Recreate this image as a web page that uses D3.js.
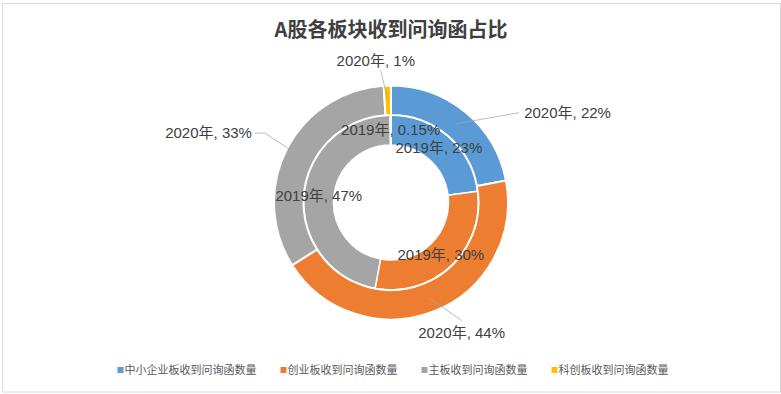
<!DOCTYPE html>
<html>
<head>
<meta charset="utf-8">
<script src="https://cdn.jsdelivr.net/npm/d3@7"></script>
<style>
  body { margin: 0; background: #fff; }
  text { font-family: "Liberation Sans Narrow", "Liberation Sans", "Noto Sans CJK SC", sans-serif; fill: #404040; }
  .title { font-family: "Noto Sans CJK SC", sans-serif; font-weight: bold; font-size: 20px; }
  .legend text { font-family: "Noto Sans CJK SC", sans-serif; font-size: 11px; fill: #595959; }
</style>
</head>
<body>
<svg id="chart" width="781" height="394"></svg>
<script>
var categories = ["中小企业板收到问询函数量", "创业板收到问询函数量", "主板收到问询函数量", "科创板收到问询函数量"];
var colors = ["#5B9BD5", "#ED7D31", "#A5A5A5", "#FFC000"];
var years = ["2019年", "2020年"];
var values2019 = [23, 30, 47, 0.15];
var values2020 = [22, 44, 33, 1];
var labels2019 = ["23%", "30%", "47%", "0.15%"];
var labels2020 = ["22%", "44%", "33%", "1%"];

// where the outer leader lines end, relative to the slice centroid
var outerLabelOffset = [[63, -11], [33, 23], [-35, -23], [-7, -30]];

var svg = d3.select("#chart");
var cx = 391, cy = 202.5;

svg.append("rect")
  .attr("x", 2.5).attr("y", 3.5)
  .attr("width", 778).attr("height", 388.5)
  .attr("fill", "#fff")
  .attr("stroke", "#d9d9d9");

svg.append("text")
  .attr("class", "title")
  .attr("x", cx).attr("y", 37)
  .attr("text-anchor", "middle")
  .text("A股各板块收到问询函占比");

var pie = d3.pie().sort(null).value(function(d) { return d; });
var innerArc = d3.arc().innerRadius(57.5).outerRadius(87.5);
var outerArc = d3.arc().innerRadius(87.5).outerRadius(117);

var g = svg.append("g").attr("transform", "translate(" + cx + "," + cy + ")");

var inner = pie(values2019);
var outer = pie(values2020);

g.selectAll("path.inner")
  .data(inner)
  .enter().append("path")
  .attr("class", "inner")
  .attr("d", innerArc)
  .attr("fill", function(d, i) { return colors[i]; })
  .attr("stroke", "#fff")
  .attr("stroke-width", 1.5);

g.selectAll("path.outer")
  .data(outer)
  .enter().append("path")
  .attr("class", "outer")
  .attr("d", outerArc)
  .attr("fill", function(d, i) { return colors[i]; })
  .attr("stroke", "#fff")
  .attr("stroke-width", 2);

// inner labels sit on the centroid
g.selectAll("text.inner")
  .data(inner)
  .enter().append("text")
  .attr("class", "inner")
  .attr("transform", function(d) { return "translate(" + innerArc.centroid(d) + ")"; })
  .attr("text-anchor", "middle")
  .attr("dy", "0.35em")
  .style("font-size", "15px")
  .text(function(d, i) { return years[0] + ", " + labels2019[i]; });

// outer labels with leader lines
outer.forEach(function(d, i) {
  var c = outerArc.centroid(d);
  var off = outerLabelOffset[i];
  var end = [c[0] + off[0], c[1] + off[1]];
  var pts = [c, end];
  var anchor = "middle", tx = end[0], ty = end[1];
  if (i == 0) { anchor = "start"; tx = end[0] + 5; }
  else if (i == 1) { ty = end[1] + 12; }
  else if (i == 2) { pts.push([end[0] - 10, end[1]]); anchor = "end"; tx = end[0] - 13; }
  else { tx = end[0] - 5; ty = end[1] - 10; }

  g.append("path")
    .attr("d", d3.line()(pts))
    .attr("fill", "none")
    .attr("stroke", "#a6a6a6")
    .attr("stroke-width", 0.75);

  g.append("text")
    .attr("x", tx).attr("y", ty)
    .attr("text-anchor", anchor)
    .attr("dy", "0.35em")
    .style("font-size", "15px")
    .text(years[1] + ", " + labels2020[i]);
});

// legend, laid out left to right and centred
var legend = svg.append("g").attr("class", "legend");
var items = legend.selectAll("g")
  .data(categories)
  .enter().append("g");
items.append("rect")
  .attr("width", 6).attr("height", 6)
  .attr("y", -3)
  .attr("fill", function(d, i) { return colors[i]; });
items.append("text")
  .attr("x", 7)
  .attr("dy", "0.35em")
  .text(function(d) { return d; });

var gap = 24, x = 0;
items.each(function() {
  var w = d3.select(this).select("text").node().getComputedTextLength() + 7;
  d3.select(this).attr("transform", "translate(" + x + ",0)");
  x += w + gap;
});
x -= gap;
legend.attr("transform", "translate(" + (393 - x / 2) + ",370)");
</script>
</body>
</html>
